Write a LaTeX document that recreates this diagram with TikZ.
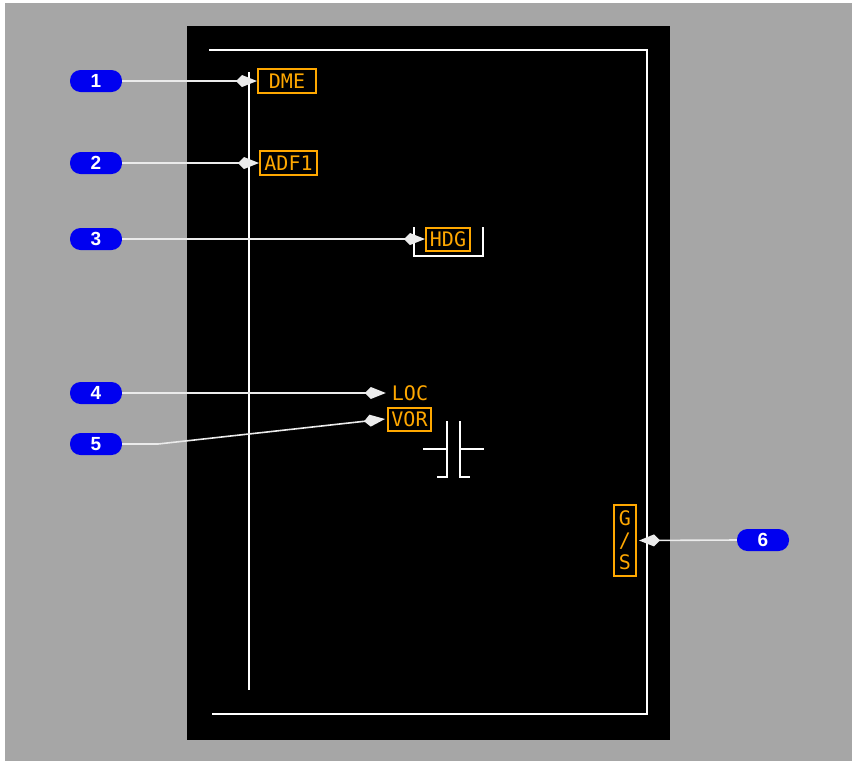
\documentclass[tikz,border=0pt]{standalone}
\usepackage{fontspec}
\setmainfont{Liberation Sans}
\newfontfamily\monofont{DejaVu Sans Mono}
\usetikzlibrary{arrows.meta}
\definecolor{bggray}{HTML}{A6A6A6}
\definecolor{amber}{HTML}{FFA800}
\definecolor{pillblue}{HTML}{0000F0}
\tikzset{
  pill/.style={fill=pillblue, rounded corners=10.5pt, minimum width=52pt, minimum height=22pt, inner sep=0pt, text=white, font=\bfseries\fontsize{19}{19}\selectfont},
  lbl/.style={text=amber, font=\monofont\fontsize{20}{22}\selectfont, inner sep=0pt},
  lblbox/.style={lbl, draw=amber, line width=2pt},
  wline/.style={draw=white, line width=1.8pt},
  callout/.style={draw=white!92!black, line width=1.6pt, -{Kite[length=21pt,width=12pt,inset=6pt,fill=white!92!black]}}
}
\begin{document}
\begin{tikzpicture}[x=1pt,y=-1pt]
\useasboundingbox (0,0) rectangle (856,761);
\fill[white] (0,0) rectangle (856,761);
\fill[bggray] (5,3) rectangle (852,761);
\fill[black] (187,26) rectangle (670,740);
% frame lines
\draw[wline] (209,50) -- (647,50) -- (647,715);
\draw[wline] (212,714) -- (647,714);
\draw[wline] (249,72) -- (249,690);
% HDG bracket
\draw[wline] (414,227) -- (414,256) -- (483,256) -- (483,227);
% cross symbol
\draw[wline] (447,421) -- (447,477) -- (437,477);
\draw[wline] (423,449) -- (447,449);
\draw[wline] (460,421) -- (460,477) -- (470,477);
\draw[wline] (460,449) -- (484,449);
% labels
\node[lblbox, minimum width=58pt, minimum height=24pt] (dme) at (287,81) {DME};
\node[lblbox, minimum width=57pt, minimum height=24pt] (adf) at (288.5,163) {ADF1};
\node[lblbox, minimum width=44pt, minimum height=23pt] (hdg) at (448,239) {HDG};
\node[lbl, minimum width=44pt, minimum height=20pt] (loc) at (410,393) {LOC};
\node[lblbox, minimum width=43pt, minimum height=23pt] (vor) at (409.5,419) {VOR};
\node[lblbox, minimum width=22pt, minimum height=71pt, align=center] (gs) at (625,540.5) {G\\/\\S};
% pills
\node[pill] (p1) at (96,81) {1};
\node[pill] (p2) at (96,163) {2};
\node[pill] (p3) at (96,239) {3};
\node[pill] (p4) at (96,393) {4};
\node[pill] (p5) at (96,444) {5};
\node[pill] (p6) at (763,540) {6};
\coordinate (k5) at (158,444);
% callouts
\draw[callout] (p1.east) -- (dme.west);
\draw[callout] (p2.east) -- (adf.west);
\draw[callout] (p3.east) -- (hdg.west);
\draw[callout] (p4.east) -- ([xshift=-2pt]loc.west);
\draw[callout] (p5.east) -- (k5) -- ([xshift=-2pt]vor.west);
\draw[callout] (p6.west) -- ([xshift=2pt]gs.east);
\end{tikzpicture}
\end{document}
